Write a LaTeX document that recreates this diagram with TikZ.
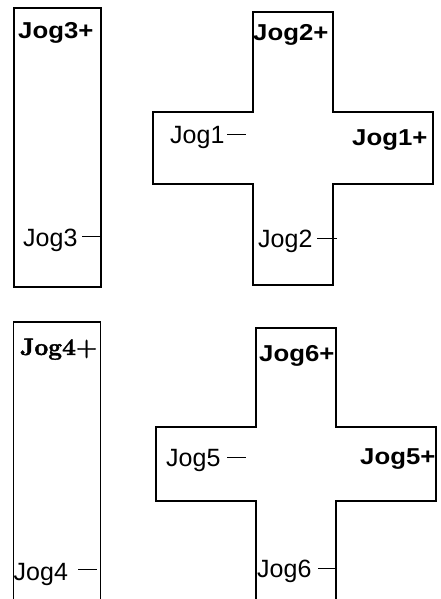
\documentclass[tikz,border=0pt]{standalone}
\usepackage{fontspec}
\usepackage{graphicx}
\newfontfamily\arialf{Liberation Sans}
\newfontfamily\lmbx{lmroman10-bold.otf}[FakeBold=1.5]
\newcommand\wideb[1]{\scalebox{1.12}[1]{#1}}
\begin{document}
\begin{tikzpicture}[x=1pt,y=-1pt,
  outline/.style={line width=1.3pt, line join=miter},
  lead/.style={line width=1pt},
  reg/.style={anchor=base west, inner sep=0pt, font=\arialf\fontsize{25}{30}\selectfont},
  boldlab/.style={anchor=base west, inner sep=0pt, font=\arialf\bfseries\fontsize{23}{28}\selectfont},
  serifb/.style={anchor=base west, inner sep=0pt, font=\lmbx\fontsize{24}{29}\selectfont}]
\useasboundingbox (0,0) rectangle (441,599);
% shapes
\draw[outline] (14,8) rectangle (101,287);
\draw[outline] (253,12) -- (333,12) -- (333,112) -- (433,112) -- (433,184) -- (333,184)
  -- (333,285) -- (253,285) -- (253,184) -- (153,184) -- (153,112) -- (253,112) -- cycle;
\draw[outline] (13.5,600) -- (13.5,322) -- (100.5,322) -- (100.5,600);
\draw[outline] (256,600) -- (256,501) -- (156,501) -- (156,427) -- (256,427) -- (256,328)
  -- (336,328) -- (336,427) -- (436,427) -- (436,501) -- (336,501) -- (336,600);
% labels
\node[boldlab] (j3p) at (18,39) {\wideb{Jog3+}};
\node[reg] (j3) at (23,246) {Jog3};
\node[boldlab] (j2p) at (253,41) {\wideb{Jog2+}};
\node[reg] (j1) at (170,143) {Jog1};
\node[boldlab] (j1p) at (352,145) {\wideb{Jog1+}};
\node[reg] (j2) at (258,247) {Jog2};
\node[serifb] (j4p) at (20,355) {Jog4+};
\node[reg] (j4) at (13.5,580) {Jog4};
\node[boldlab] (j6p) at (259,361) {\wideb{Jog6+}};
\node[reg] (j5) at (166,466) {Jog5};
\node[boldlab] (j5p) at (360,464) {\wideb{Jog5+}};
\node[reg] (j6) at (257,577) {Jog6};
% leader lines
\coordinate (l3a) at (82,236); \coordinate (l3b) at (101,236);
\coordinate (l1a) at (227,134); \coordinate (l1b) at (246,134);
\coordinate (l2a) at (317,238); \coordinate (l2b) at (337,238);
\coordinate (l4a) at (78,569); \coordinate (l4b) at (97,569);
\coordinate (l5a) at (227,457); \coordinate (l5b) at (246,457);
\coordinate (l6a) at (318,568); \coordinate (l6b) at (336,568);
\draw[lead] (l3a) -- (l3b);
\draw[lead] (l1a) -- (l1b);
\draw[lead] (l2a) -- (l2b);
\draw[lead] (l4a) -- (l4b);
\draw[lead] (l5a) -- (l5b);
\draw[lead] (l6a) -- (l6b);
\end{tikzpicture}
\end{document}
